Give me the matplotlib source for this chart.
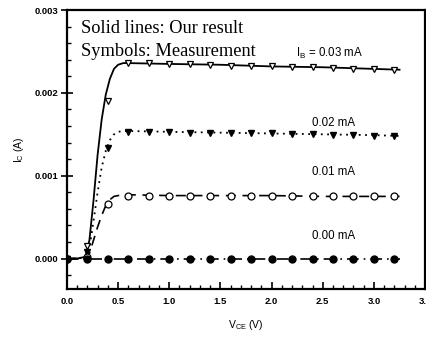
import matplotlib
matplotlib.use("Agg")
import matplotlib.pyplot as plt
from matplotlib.ticker import MultipleLocator, FormatStrFormatter

# Measurement points
vce_meas = [0.0, 0.2, 0.4, 0.6, 0.8, 1.0, 1.2, 1.4, 1.6, 1.8, 2.0, 2.2, 2.4, 2.6, 2.8, 3.0, 3.2]
ic_meas_030 = [0.0, 0.00015, 0.00190, 0.00236, 0.00236, 0.00235, 0.00235, 0.00234, 0.00233,
               0.00233, 0.00232, 0.00231, 0.00231, 0.00230, 0.00229, 0.00229, 0.00228]
ic_meas_020 = [0.0, 0.00008, 0.00134, 0.00153, 0.00153, 0.00153, 0.00152, 0.00152, 0.00151,
               0.00151, 0.00151, 0.00150, 0.00150, 0.00149, 0.00149, 0.00148, 0.00148]
ic_meas_010 = [0.0, 0.00002, 0.00066, 0.00076, 0.00076, 0.00076, 0.00076, 0.00076, 0.00076,
               0.00076, 0.00075, 0.00075, 0.00075, 0.00075, 0.00075, 0.00075, 0.00075]
ic_meas_000 = [0.0] * 17

# Model curves
vce_model = [0.0, 0.10, 0.18, 0.22, 0.26, 0.30, 0.34, 0.38, 0.42, 0.46, 0.50, 0.55, 0.60,
             1.0, 1.5, 2.0, 2.5, 3.0, 3.25]
ic_model_030 = [0.0, 0.0, 0.00002, 0.00022, 0.00070, 0.00125, 0.00168, 0.00198, 0.00217,
                0.00229, 0.00234, 0.00236, 0.00236, 0.00235, 0.00234, 0.00232, 0.00231, 0.00229, 0.00228]
ic_model_020 = [0.0, 0.0, 0.00001, 0.00012, 0.00045, 0.00080, 0.00110, 0.00130, 0.00143,
                0.00150, 0.00153, 0.00154, 0.00154, 0.00153, 0.00152, 0.00151, 0.00150, 0.00149, 0.00148]
ic_model_010 = [0.0, 0.0, 0.0, 0.00006, 0.00022, 0.00038, 0.00052, 0.00064, 0.00071,
                0.00075, 0.00076, 0.00077, 0.00077, 0.00076, 0.00076, 0.00076, 0.00075, 0.00075, 0.00075]
ic_model_000 = [0.0] * 19

ib_labels = ["I$_\\mathregular{B}$ = 0.03 mA", "0.02 mA", "0.01 mA", "0.00 mA"]
xticks = [0.0, 0.5, 1.0, 1.5, 2.0, 2.5, 3.0, 3.5]
yticks = [0.000, 0.001, 0.002, 0.003]

fig = plt.figure(figsize=(4.26, 3.37), dpi=100)
ax = fig.add_axes([0.157, 0.142, 0.841, 0.828])

ax.plot(vce_model, ic_model_030, color="black", lw=1.3, ls="-")
ax.plot(vce_model, ic_model_020, color="black", lw=1.3, ls=(0, (1, 2.5)))
ax.plot(vce_model, ic_model_010, color="black", lw=1.2, ls=(0, (6, 4)))
ax.plot(vce_model, ic_model_000, color="black", lw=1.2, ls=(0, (7, 3, 1, 3)))

ms = 5
ax.plot(vce_meas, ic_meas_030, ls="none", marker="v", ms=ms, mfc="white", mec="black", mew=0.9)
ax.plot(vce_meas, ic_meas_020, ls="none", marker="v", ms=ms, mfc="black", mec="black")
ax.plot(vce_meas, ic_meas_010, ls="none", marker="o", ms=ms, mfc="white", mec="black", mew=0.9)
ax.plot(vce_meas, ic_meas_000, ls="none", marker="o", ms=ms, mfc="black", mec="black")

ax.set_xlim(0, 3.5)
ax.set_ylim(-0.00037, 0.003)
ax.set_xticks(xticks)
ax.set_yticks(yticks)
ax.xaxis.set_minor_locator(MultipleLocator(0.1))
ax.yaxis.set_minor_locator(MultipleLocator(0.0002))
ax.xaxis.set_major_formatter(FormatStrFormatter("%.1f"))
ax.yaxis.set_major_formatter(FormatStrFormatter("%.3f"))

sans = "Liberation Sans"
ax.tick_params(axis="x", which="major", direction="in", length=5, width=1.2, labelsize=6.8, pad=6)
ax.tick_params(axis="x", which="minor", direction="in", length=3, width=1.0)
ax.tick_params(axis="y", which="major", direction="inout", length=8, width=1.2, labelsize=6.8, pad=2)
ax.tick_params(axis="y", which="minor", direction="in", length=3, width=1.0)
for lab in ax.get_xticklabels() + ax.get_yticklabels():
    lab.set_fontfamily(sans)
    lab.set_fontweight("bold")
for s in ax.spines.values():
    s.set_linewidth(1.6)

ax.set_xlabel("V$_\\mathregular{CE}$ (V)", fontsize=7.5, family=sans, labelpad=8)
ax.set_ylabel("I$_\\mathregular{C}$ (A)", fontsize=7.5, family=sans, labelpad=6)

serif = "Liberation Serif"
ax.text(0.04, 0.935, "Solid lines: Our result", transform=ax.transAxes, family=serif, fontsize=13.2, va="center")
ax.text(0.04, 0.850, "Symbols: Measurement", transform=ax.transAxes, family=serif, fontsize=13.2, va="center")

ax.text(2.24, 0.00248, ib_labels[0], family=sans, fontsize=8.3, va="center")
ax.text(2.39, 0.00164, ib_labels[1], family=sans, fontsize=8.3, va="center")
ax.text(2.39, 0.00104, ib_labels[2], family=sans, fontsize=8.3, va="center")
ax.text(2.39, 0.00027, ib_labels[3], family=sans, fontsize=8.3, va="center")

fig.savefig("out.png", dpi=100)
